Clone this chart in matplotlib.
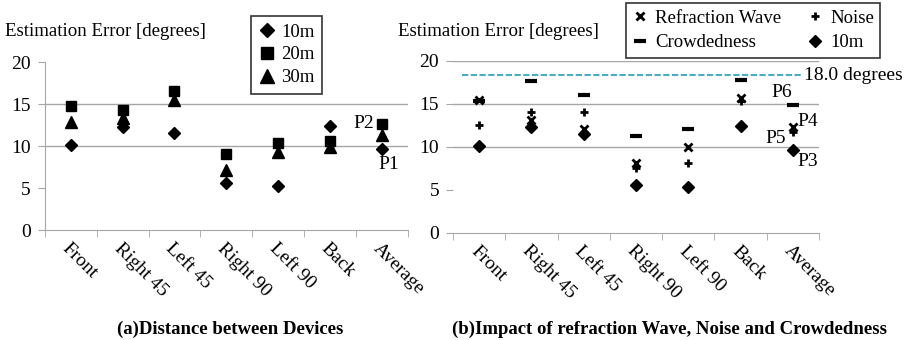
import numpy as np
import matplotlib.pyplot as plt

plt.rcParams['font.family'] = ['Liberation Serif', 'DejaVu Serif']

directions = ["Front", "Right 45", "Left 45", "Right 90", "Left 90", "Back", "Average"]

# (a) distancia entre dispositivos
err_10m = [10.1, 12.3, 11.5, 5.6, 5.3, 12.4, 9.6]
err_20m = [14.8, 14.3, 16.6, 9.0, 10.4, 10.6, 12.6]
err_30m = [12.9, 13.3, 15.5, 7.1, 9.3, 9.9, 11.3]

# (b) onda refractada, ruido, aglomeración
refraction = [15.4, 13.1, 12.1, 8.1, 10.0, 15.7, 12.3]
noise = [12.5, 14.0, 14.0, 7.5, 8.1, 15.3, 11.7]
crowded = [15.3, 17.6, 16.0, 11.2, 12.1, 17.8, 14.9]
threshold = 18.3
threshold_label = "18.0 degrees"

GRID = "#a6a6a6"
x = np.arange(len(directions))

fig = plt.figure(figsize=(9.16, 3.4), dpi=100)
axa = fig.add_axes([0.049, 0.3235, 0.396, 0.494])
axb = fig.add_axes([0.4945, 0.3156, 0.3996, 0.5059])


def style(ax, left_spine):
    ax.set_xlim(-0.5, len(directions) - 0.5)
    ax.set_ylim(0, 20)
    ax.set_yticks([0, 5, 10, 15, 20])
    ax.tick_params(axis="y", labelsize=14, length=5, color=GRID, pad=5)
    for s in ["top", "right"]:
        ax.spines[s].set_visible(False)
    ax.spines["left"].set_visible(left_spine)
    ax.spines["left"].set_color(GRID)
    ax.spines["bottom"].set_color(GRID)
    ax.set_xticks(x)
    ax.set_xticklabels(directions, rotation=-45, ha="left", va="top",
                       rotation_mode="anchor", fontsize=14)
    ax.tick_params(axis="x", length=0, pad=7)
    ax.set_xticks(np.arange(-0.5, len(directions)), minor=True)
    ax.tick_params(axis="x", which="minor", length=5, color=GRID)
    ax.set_axisbelow(True)


style(axa, True)
for yv in [10, 15]:
    axa.axhline(yv, color=GRID, lw=1, zorder=0)
axa.plot(x, err_10m, "D", color="black", ms=6, label="10m", ls="none")
axa.plot(x, err_20m, "s", color="black", ms=7, label="20m", ls="none")
axa.plot(x, err_30m, "^", color="black", ms=8, label="30m", ls="none")
axa.annotate("P2", (x[-1], err_20m[-1]), xytext=(-8, 1), textcoords="offset pixels",
             ha="right", va="center", fontsize=14)
axa.annotate("P1", (x[-1], err_10m[-1]), xytext=(7, -15), textcoords="offset pixels",
             ha="center", va="center", fontsize=14)
leg = axa.legend(loc="upper left", bbox_to_anchor=(0.567, 1.274), fontsize=13.5,
                 frameon=True, fancybox=False, edgecolor="black", handletextpad=0.25,
                 handlelength=1.0, borderpad=0.4, labelspacing=0.3, borderaxespad=0,
                 markerscale=1.2)
leg.get_frame().set_linewidth(1.2)

style(axb, False)
for yv in [10, 15, 20]:
    axb.axhline(yv, color=GRID, lw=1, zorder=0)
axb.plot([-0.33, 6.2], [threshold, threshold], ls=(0, (3, 1.2)), color="#4bacc6", lw=1.5)
axb.text(6.22, threshold, threshold_label, ha="left", va="center", fontsize=14)
h1, = axb.plot(x, refraction, "x", color="black", ms=6, mew=2, ls="none", label="Refraction Wave")
h3, = axb.plot(x, crowded, "_", color="black", ms=8, mew=3, ls="none", label="Crowdedness")
h2, = axb.plot(x, noise, "+", color="black", ms=6, mew=2, ls="none", label="Noise")
h4, = axb.plot(x, err_10m, "D", color="black", ms=6, ls="none", label="10m")
axb.annotate("P6", (x[-1], crowded[-1]), xytext=(-11, 12), textcoords="offset pixels",
             ha="center", va="center", fontsize=14)
axb.annotate("P4", (x[-1], refraction[-1]), xytext=(15, 5), textcoords="offset pixels",
             ha="center", va="center", fontsize=14)
axb.annotate("P5", (x[-1], noise[-1]), xytext=(-17, -6), textcoords="offset pixels",
             ha="center", va="center", fontsize=14)
axb.annotate("P3", (x[-1], err_10m[-1]), xytext=(15, -11), textcoords="offset pixels",
             ha="center", va="center", fontsize=14)
legb = axb.legend(handles=[h1, h3, h2, h4], ncol=2, loc="upper left",
                  bbox_to_anchor=(0.473, 1.335), fontsize=13.5, frameon=True, fancybox=False,
                  edgecolor="black", handletextpad=0.4, handlelength=0.8, borderpad=0.35,
                  labelspacing=0.4, columnspacing=1.4, borderaxespad=0)
legb.get_frame().set_linewidth(1.2)

fig.text(0.006, 0.906, "Estimation Error [degrees]", fontsize=13.6, ha="left", va="center")
fig.text(0.434, 0.906, "Estimation Error [degrees]", fontsize=13.6, ha="left", va="center")
fig.text(0.251, 0.032, "(a)Distance between Devices", fontsize=13.5, fontweight="bold",
         ha="center", va="center")
fig.text(0.731, 0.032, "(b)Impact of refraction Wave, Noise and Crowdedness", fontsize=13.5,
         fontweight="bold", ha="center", va="center")

fig.savefig("out.png", dpi=100)
